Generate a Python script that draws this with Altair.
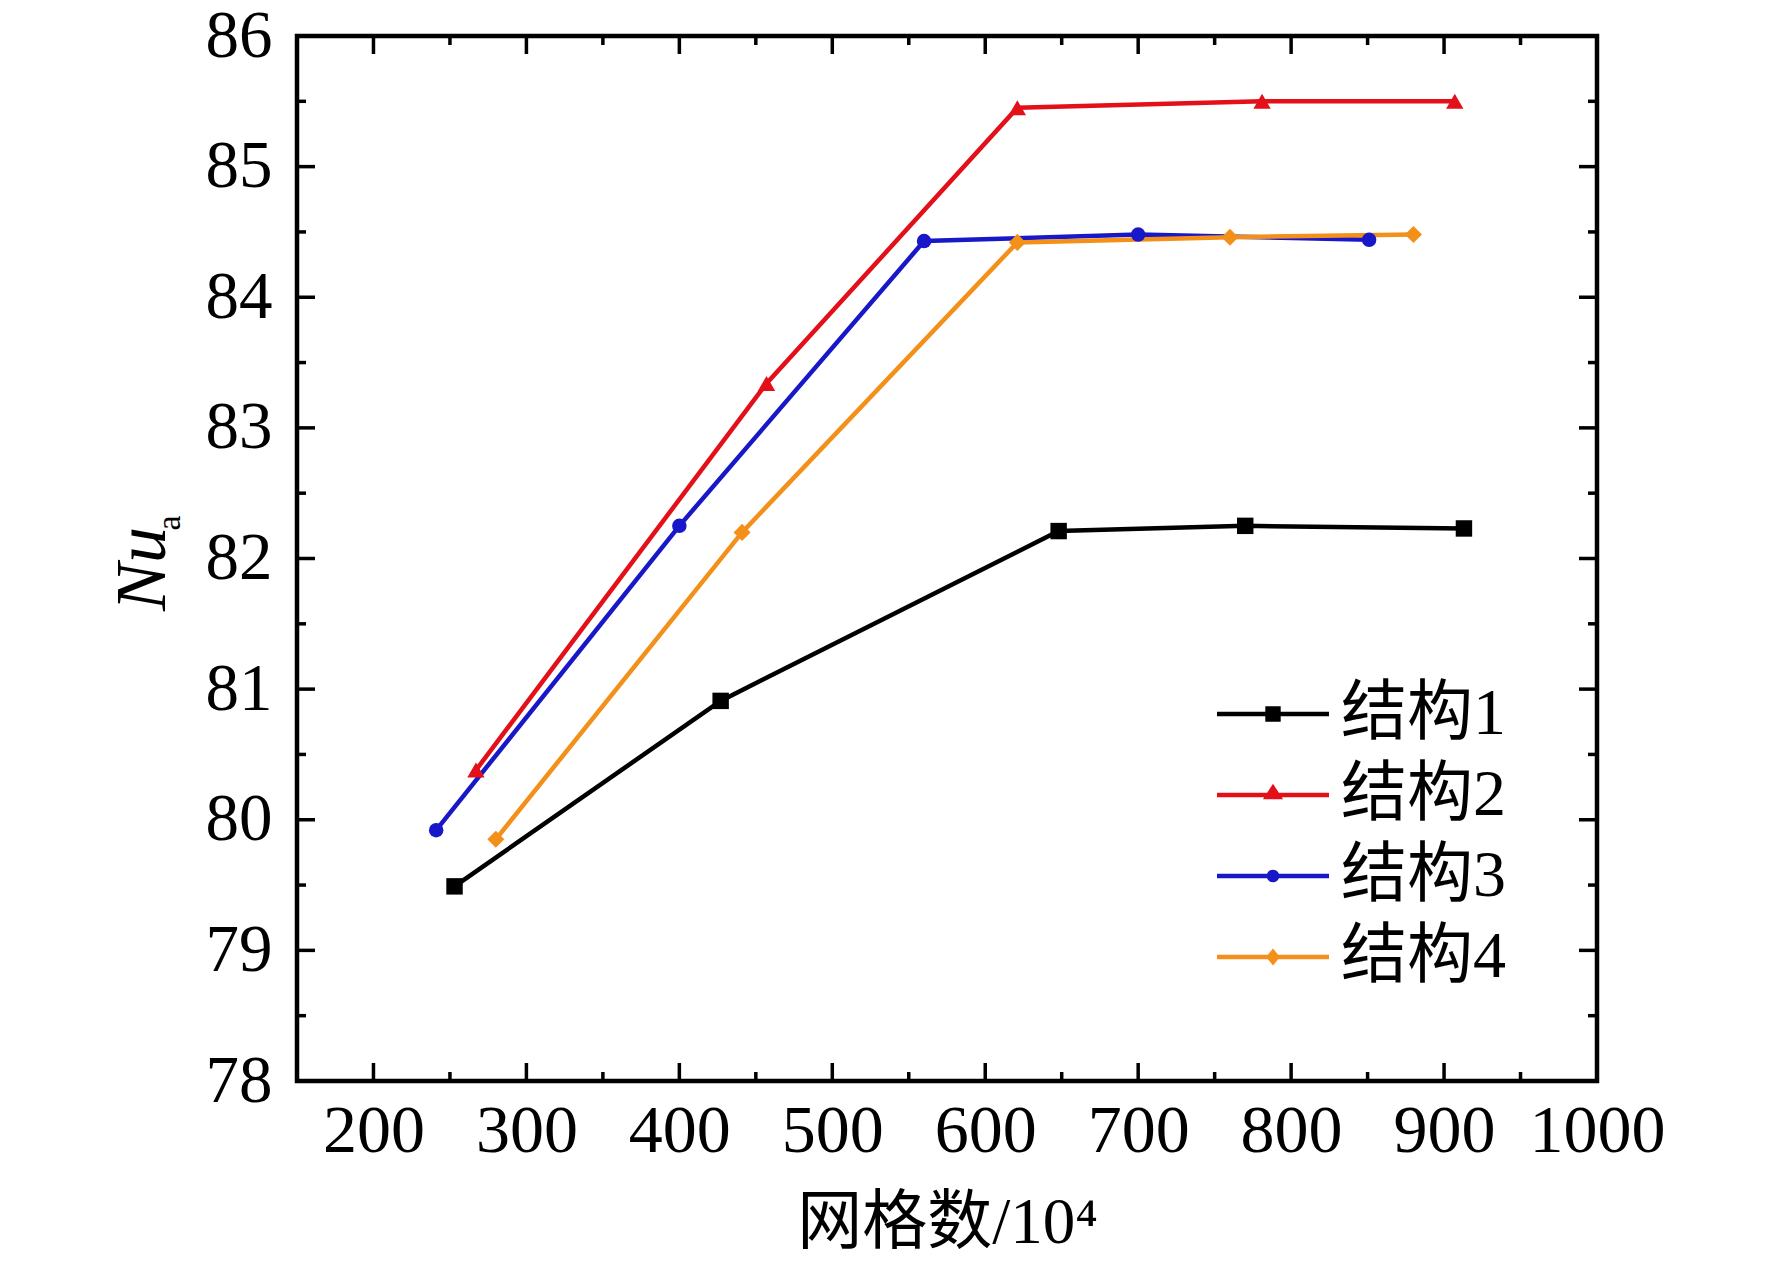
import altair as alt
import pandas as pd

# ---- data ----
series_names = ["结构1", "结构2", "结构3", "结构4"]
s1_x = [253, 427, 648, 770, 913]
s1_y = [79.49, 80.91, 82.21, 82.25, 82.23]
s2_x = [267, 457, 621, 781, 907]
s2_y = [80.38, 83.34, 85.45, 85.50, 85.50]
s3_x = [241, 400, 560, 700, 851]
s3_y = [79.92, 82.25, 84.43, 84.48, 84.44]
s4_x = [280, 441, 621, 760, 880]
s4_y = [79.85, 82.20, 84.42, 84.46, 84.48]

x_major = [200, 300, 400, 500, 600, 700, 800, 900, 1000]
x_minor = [250, 350, 450, 550, 650, 750, 850, 950]
y_major = [78, 79, 80, 81, 82, 83, 84, 85, 86]
y_minor = [78.5, 79.5, 80.5, 81.5, 82.5, 83.5, 84.5, 85.5]

colors = ["#000000", "#E3101A", "#1818C8", "#F39019"]
shapes = ["square", "triangle-up", "circle", "diamond"]
marker_sizes = [270, 300, 210, 290]

rows = []
for name, xs, ys in zip(series_names, [s1_x, s2_x, s3_x, s4_x], [s1_y, s2_y, s3_y, s4_y]):
    for a, b in zip(xs, ys):
        rows.append({"series": name, "x": a, "y": b})
df = pd.DataFrame(rows)

W, H = 1300, 1045
SERIF = "Liberation Serif, Noto Sans CJK SC"

xscale = alt.Scale(domain=[150, 1000], nice=False, zero=False)
yscale = alt.Scale(domain=[78, 86], nice=False, zero=False)
cscale = alt.Scale(domain=series_names, range=colors)

xaxis = alt.Axis(values=x_major, format="d", ticks=False, domain=False, grid=False,
                 labelFont="Liberation Serif", labelFontSize=68, labelColor="black",
                 labelPadding=16, labelFlush=False, labelOverlap=False,
                 title="网格数/10⁴", titleFont=SERIF, titleFontSize=65,
                 titleFontWeight="normal", titleColor="black", titlePadding=26)
yaxis = alt.Axis(values=y_major, format="d", ticks=False, domain=False, grid=False,
                 labelFont="Liberation Serif", labelFontSize=67, labelColor="black",
                 labelPadding=25, labelFlush=False, labelOverlap=False, title=None)

X = alt.X("x:Q", scale=xscale, axis=xaxis)
Y = alt.Y("y:Q", scale=yscale, axis=yaxis)

series_layers = []
for name, col in zip(series_names, colors):
    series_layers.append(
        alt.Chart(df).transform_filter(alt.datum.series == name)
        .mark_line(strokeWidth=4.5, color=col).encode(x=X, y=Y)
    )
for name, col, shp, sz in zip(series_names, colors, shapes, marker_sizes):
    series_layers.append(
        alt.Chart(df).transform_filter(alt.datum.series == name)
        .mark_point(filled=True, shape=shp, size=sz, opacity=1, color=col)
        .encode(x=X, y=Y)
    )

# legend symbols: line with marker, as custom paths
line_part = "M-4,-0.16 L4,-0.16 L4,0.16 L-4,0.16 Z "
legend_paths = [
    line_part + "M-0.55,-0.55 L0.55,-0.55 L0.55,0.55 L-0.55,0.55 Z",
    line_part + "M0,-0.8 L0.72,0.3 L-0.72,0.3 Z",
    line_part + "M0.45,0 A0.45,0.45 0 1,1 -0.45,0 A0.45,0.45 0 1,1 0.45,0 Z",
    line_part + "M0,-0.6 L0.5,0 L0,0.6 L-0.5,0 Z",
]
leg = alt.Legend(title=None, orient="none", legendX=943, legendY=645,
                 labelFont=SERIF, labelFontSize=66, labelColor="black",
                 labelOffset=35, labelLimit=500, symbolSize=784,
                 symbolStrokeWidth=0, symbolOpacity=1, rowPadding=15, padding=0)
legend_layer = alt.Chart(df).mark_point(
    filled=True, size=1, opacity=0).encode(
    x=X, y=Y,
    color=alt.Color("series:N", scale=cscale, legend=leg),
    shape=alt.Shape("series:N", scale=alt.Scale(domain=series_names, range=legend_paths), legend=leg),
)

# inward ticks on all four sides
def xticks(vals, length):
    d = pd.DataFrame({"x": vals})
    b = alt.Chart(d).mark_rule(color="black", strokeWidth=3.5).encode(
        x=alt.X("x:Q", scale=xscale, axis=xaxis), y=alt.value(H), y2=alt.value(H - length))
    t = alt.Chart(d).mark_rule(color="black", strokeWidth=3.5).encode(
        x=alt.X("x:Q", scale=xscale, axis=xaxis), y=alt.value(0), y2=alt.value(length))
    return [b, t]

def yticks(vals, length):
    d = pd.DataFrame({"y": vals})
    l = alt.Chart(d).mark_rule(color="black", strokeWidth=3.5).encode(
        y=alt.Y("y:Q", scale=yscale, axis=yaxis), x=alt.value(0), x2=alt.value(length))
    r = alt.Chart(d).mark_rule(color="black", strokeWidth=3.5).encode(
        y=alt.Y("y:Q", scale=yscale, axis=yaxis), x=alt.value(W), x2=alt.value(W - length))
    return [l, r]

tick_layers = xticks(x_major, 18) + xticks(x_minor, 9) + yticks(y_major, 18) + yticks(y_minor, 9)

one = pd.DataFrame({"k": [0]})
ytitle_nu = alt.Chart(one).mark_text(text="Nu", angle=270, font="Liberation Serif",
                                     fontStyle="italic", fontSize=72, color="black",
                                     align="center", baseline="middle").encode(
    x=alt.value(-154), y=alt.value(533))
ytitle_a = alt.Chart(one).mark_text(text="a", angle=270, font="Liberation Serif",
                                    fontSize=34, color="black",
                                    align="center", baseline="middle").encode(
    x=alt.value(-127), y=alt.value(487))

chart = alt.layer(
    *tick_layers, *series_layers, legend_layer, ytitle_nu, ytitle_a
).properties(
    width=W, height=H,
    autosize=alt.AutoSizeParams(type="none"),
    padding={"left": 289, "top": 28, "right": 150, "bottom": 172},
).configure_view(stroke="black", strokeWidth=4.5)

chart.save("out.html", embed_options={"renderer": "svg", "actions": False})
